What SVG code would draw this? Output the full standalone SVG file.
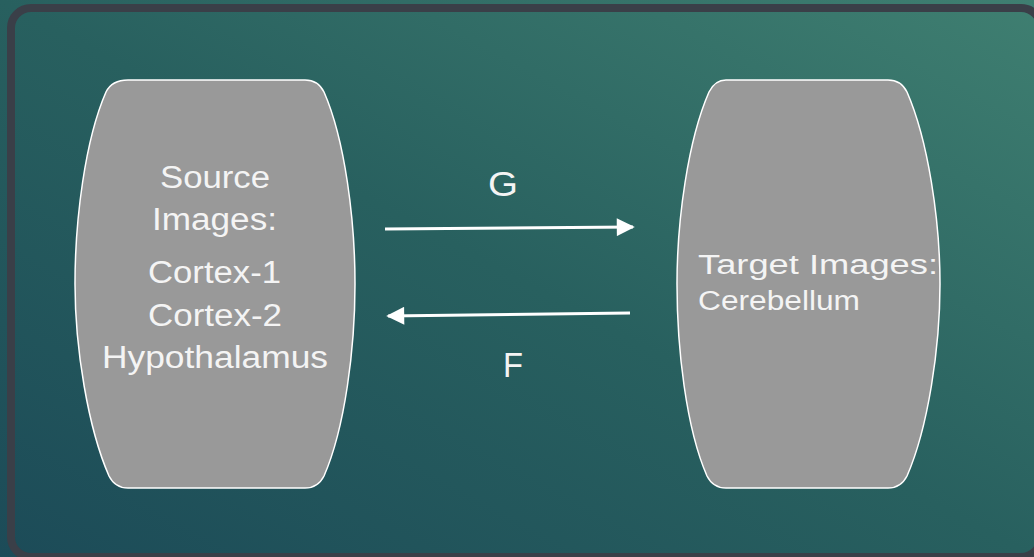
<svg xmlns="http://www.w3.org/2000/svg" width="1034" height="557" viewBox="0 0 1034 557">
<defs>
<linearGradient id="bg" x1="0" y1="1" x2="1" y2="0">
<stop offset="0" stop-color="#1c4b58"/>
<stop offset="0.5" stop-color="#28605f"/>
<stop offset="1" stop-color="#3f7f71"/>
</linearGradient>
<marker id="ah" viewBox="0 0 10 10" refX="9" refY="5" markerWidth="8" markerHeight="6" markerUnits="strokeWidth" orient="auto">
<path d="M0,0 L10,5 L0,10 Z" fill="#ffffff"/>
</marker>
</defs>
<style>
.node{fill:#999999;stroke:#ffffff;stroke-width:1.5}
.t{font-family:"Liberation Sans",Arial,sans-serif;fill:#f4f4f4}
.conn{stroke:#ffffff;stroke-width:3;fill:none;marker-end:url(#ah)}
</style>
<rect x="0" y="0" width="1034" height="557" fill="url(#bg)"/>
<rect x="11" y="8" width="1030" height="549" rx="20" fill="none" stroke="#3a3f48" stroke-width="8"/>
<g id="source">
<path class="node" d="M128,80 L305,80 Q318,80 324,92 C345,140 355,220 355,284 C355,348 345,428 324,476 Q318,488 305,488 L128,488 Q115,488 109,476 C88,428 75,348 75,284 C75,220 85,140 106,92 Q112,80 128,80 Z"/>
<text class="t" font-size="31" x="160" y="188" textLength="110" lengthAdjust="spacingAndGlyphs">Source</text>
<text class="t" font-size="31" x="152" y="230" textLength="125" lengthAdjust="spacingAndGlyphs">Images:</text>
<text class="t" font-size="31" x="148" y="283" textLength="133" lengthAdjust="spacingAndGlyphs">Cortex-1</text>
<text class="t" font-size="31" x="148" y="326" textLength="134" lengthAdjust="spacingAndGlyphs">Cortex-2</text>
<text class="t" font-size="31" x="102" y="368" textLength="226" lengthAdjust="spacingAndGlyphs">Hypothalamus</text>
</g>
<g id="target">
<path class="node" d="M726,80 L888,80 Q901,80 907,92 C928,140 940,220 940,284 C940,348 928,428 907,476 Q901,488 888,488 L726,488 Q713,488 707,476 C686,428 677,348 677,284 C677,220 688,140 709,92 Q715,80 726,80 Z"/>
<text class="t" font-size="27" x="698" y="274" textLength="240" lengthAdjust="spacingAndGlyphs">Target Images:</text>
<text class="t" font-size="27" x="698" y="310" textLength="162" lengthAdjust="spacingAndGlyphs">Cerebellum</text>
</g>
<g id="connectors">
<line class="conn" x1="385" y1="229" x2="633" y2="227"/>
<line class="conn" x1="630" y1="313" x2="388" y2="316"/>
<text class="t" font-size="35" x="488" y="196" textLength="30" lengthAdjust="spacingAndGlyphs">G</text>
<text class="t" font-size="35" x="503" y="377" textLength="20" lengthAdjust="spacingAndGlyphs">F</text>
</g>
</svg>
